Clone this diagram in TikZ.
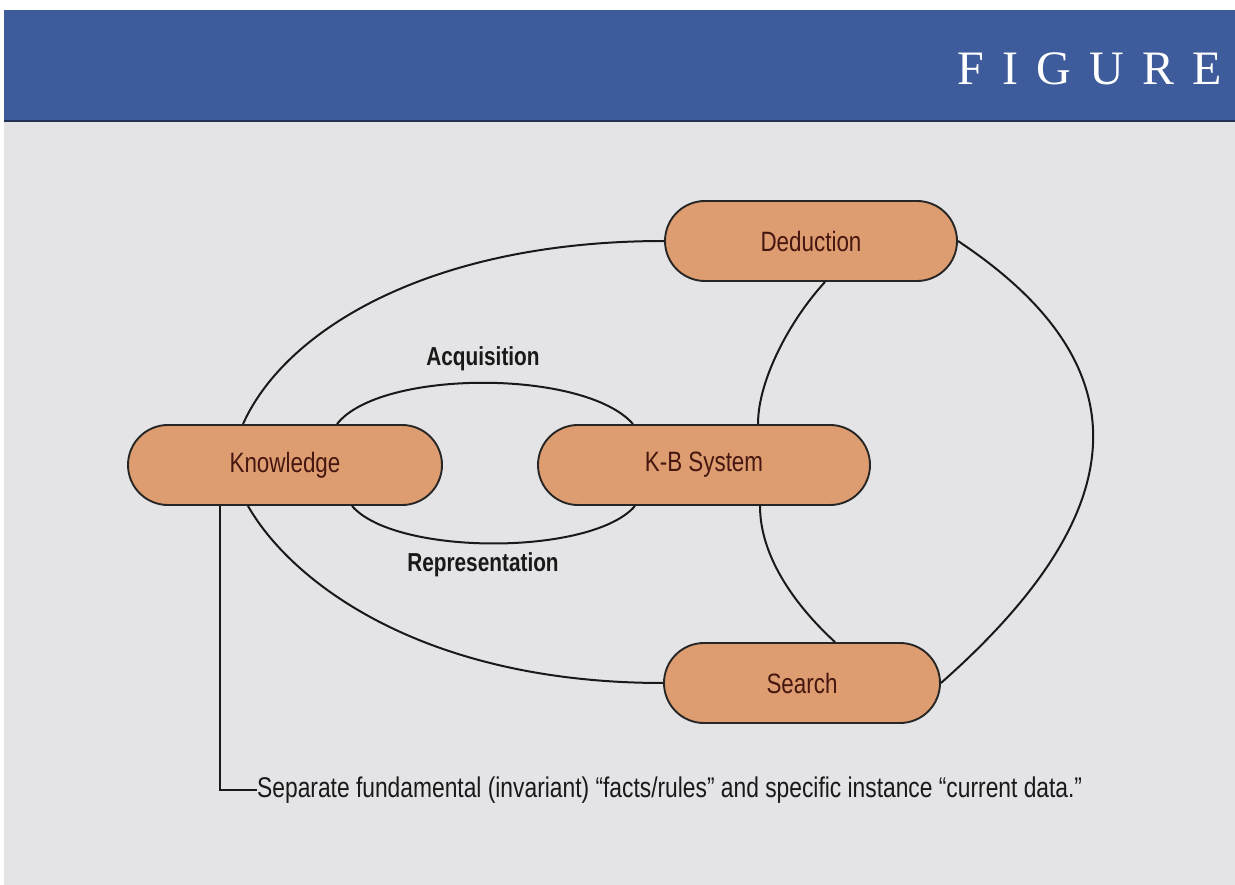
\documentclass[tikz,border=0pt]{standalone}
\usepackage{fontspec}
\setmainfont{Liberation Sans}[FakeStretch=0.8]
\newfontfamily\figfont{Liberation Serif}[LetterSpace=38]
\usetikzlibrary{shapes.misc}
\definecolor{bandblue}{RGB}{62,92,155}
\definecolor{bggray}{RGB}{228,228,231}
\definecolor{nodefill}{RGB}{222,157,112}
\definecolor{nodetext}{RGB}{70,22,16}
\begin{document}
\begin{tikzpicture}[x=1pt,y=-1pt,
  box/.style={draw=black!85, line width=1.9pt, fill=nodefill, rounded rectangle,
    minimum height=80pt, inner sep=0pt, font=\fontsize{28}{30}\selectfont, text=nodetext},
  link/.style={line width=2pt, draw=black!90},
  lbl/.style={font=\bfseries\fontsize{26}{28}\selectfont, inner sep=0pt, text=black!90}]
\useasboundingbox (0,0) rectangle (1235,885);
\fill[white] (0,0) rectangle (1235,885);
\fill[bggray] (4,121) rectangle (1235,885);
\fill[bandblue] (4,10) rectangle (1235,121);
\draw[line width=1.5pt, bandblue!55!black] (4,121) -- (1235,121);
\node[anchor=base west, text=white, inner sep=0pt, font=\figfont\fontsize{48}{48}\selectfont] (fig) at (957,85) {FIGURE};

% nodes
\node[box, minimum width=314pt] (K) at (285,465) {Knowledge};
\node[box, minimum width=332pt] (S) at (704,465) {K-B System};
\node[box, minimum width=292pt] (D) at (811,241) {Deduction};
\node[box, minimum width=276pt] (Se) at (802,683) {Search};

% connectors
\draw[link] ([xshift=-42pt]K.north) .. controls (285,330) and (430,241) .. (D.west);
\draw[link] ([xshift=-37pt]K.south) .. controls (290,580) and (420,683) .. (Se.west);
\draw[link] ([xshift=52pt]K.north) .. controls (380,369) and (585,369) .. ([xshift=-71pt]S.north);
\draw[link] ([xshift=67pt]K.south) .. controls (395,556) and (592,556) .. ([xshift=-69pt]S.south);
\draw[link] ([xshift=14pt]D.south) .. controls (790,320) and (758,380) .. ([xshift=54pt]S.north);
\draw[link] ([xshift=56pt]S.south) .. controls (760,560) and (800,610) .. ([xshift=33pt]Se.north);
\draw[link] (D.east) .. controls (1160,375) and (1120,525) .. (Se.east);

% labels
\node[lbl] (acq) at (483,359) {Acquisition};
\node[lbl] (rep) at (483,565) {Representation};

% note
\node[anchor=west, inner sep=0pt, font=\fontsize{28.5}{30}\selectfont, text=black!90] (note) at (257,790)
  {Separate fundamental (invariant) ``facts/rules'' and specific instance ``current data.''};
\draw[line width=1.4pt, black!90] ([xshift=-65pt]K.south) |- (note.west);
\end{tikzpicture}
\end{document}
